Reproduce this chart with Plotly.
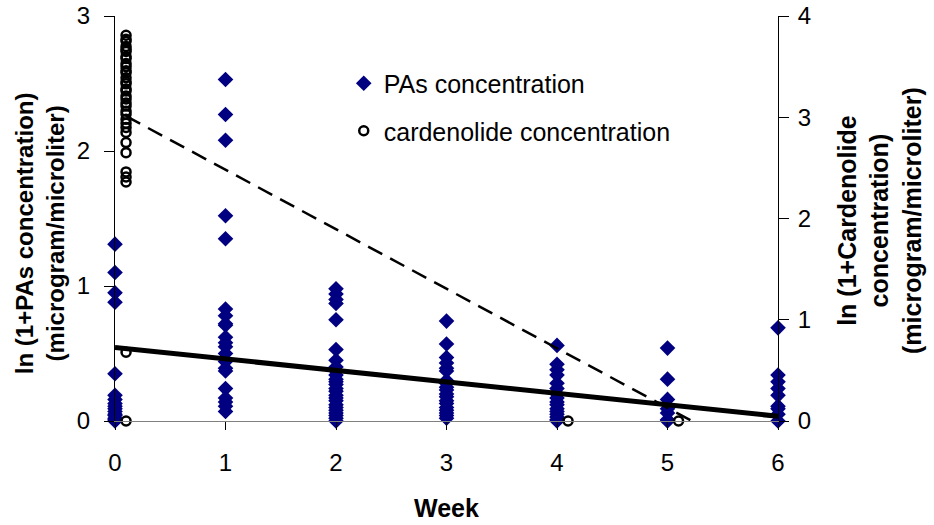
import plotly.graph_objects as go

# PAs concentration, ln(1+x), per sampling week
pas_w0 = [1.31, 1.10, 0.95, 0.88, 0.35, 0.19, 0.16, 0.13, 0.11, 0.09, 0.07, 0.05, 0.04, 0.02, 0.01, 0.0]
pas_w1 = [2.53, 2.27, 2.08, 1.52, 1.35, 0.83, 0.78, 0.72, 0.71, 0.62, 0.58, 0.55, 0.50, 0.44,
          0.39, 0.37, 0.24, 0.17, 0.14, 0.11, 0.07]
pas_w2 = [0.98, 0.94, 0.90, 0.87, 0.75, 0.53, 0.45, 0.40, 0.37, 0.34, 0.31, 0.29, 0.27, 0.24,
          0.22, 0.19, 0.17, 0.15, 0.12, 0.10, 0.08, 0.06, 0.04, 0.02, 0.0]
pas_w3 = [0.74, 0.57, 0.47, 0.43, 0.39, 0.37, 0.30, 0.28, 0.25, 0.23, 0.20, 0.18, 0.15, 0.13,
          0.10, 0.08, 0.06, 0.04, 0.02]
pas_w4 = [0.56, 0.42, 0.38, 0.34, 0.28, 0.24, 0.20, 0.17, 0.14, 0.12, 0.09, 0.07, 0.05, 0.03, 0.01, 0.0]
pas_w5 = [0.54, 0.31, 0.16, 0.09, 0.06, 0.01, 0.0]
pas_w6 = [0.69, 0.34, 0.29, 0.24, 0.19, 0.11, 0.09, 0.05, 0.0]

# Cardenolide concentration, ln(1+x)
card_w0 = [3.81, 3.77, 3.75, 3.70, 3.67, 3.65, 3.60, 3.58, 3.53, 3.50, 3.46, 3.44, 3.39, 3.35,
           3.33, 3.28, 3.26, 3.21, 3.18, 3.14, 3.11, 3.06, 3.03, 2.98, 2.94, 2.90, 2.85,
           2.75, 2.65, 2.46, 2.41, 2.36, 0.68, 0.0]
card_w4 = [0.0]
card_w5 = [0.0]

# Linear trends (intercept, slope)
pas_fit = (0.545, -0.085)
card_fit = (3.07, -0.588)

weeks = [0, 1, 2, 3, 4, 5, 6]
pas_groups = [pas_w0, pas_w1, pas_w2, pas_w3, pas_w4, pas_w5, pas_w6]
card_groups = {0: card_w0, 4: card_w4, 5: card_w5}

CARD_SHIFT = 0.1  # cardenolide samples drawn a little to the right of each week

pas_x, pas_y = [], []
for wk, vals in zip(weeks, pas_groups):
    pas_x += [wk] * len(vals)
    pas_y += vals

card_x, card_y = [], []
for wk, vals in card_groups.items():
    card_x += [wk + CARD_SHIFT] * len(vals)
    card_y += vals

FONT = "Arial, Liberation Sans, sans-serif"

fig = go.Figure()

fig.add_trace(go.Scatter(
    x=pas_x, y=pas_y, mode="markers", name="PAs concentration",
    legendgroup="pas",
    marker=dict(symbol="diamond", size=12, color="#000080", line=dict(width=0)),
    cliponaxis=False,
))

pas_line_x = [0, 6]
fig.add_trace(go.Scatter(
    x=pas_line_x, y=[pas_fit[0] + pas_fit[1] * v for v in pas_line_x],
    mode="lines", line=dict(color="black", width=5), showlegend=False,
    cliponaxis=False,
))

fig.add_trace(go.Scatter(
    x=card_x, y=card_y, mode="markers", name="cardenolide concentration",
    legendgroup="card", yaxis="y2",
    marker=dict(symbol="circle-open", size=9, color="black", line=dict(width=2.5, color="black")),
    cliponaxis=False,
))

card_line_x = [0.1, 5.3]
fig.add_trace(go.Scatter(
    x=card_line_x, y=[card_fit[0] + card_fit[1] * v for v in card_line_x],
    mode="lines", yaxis="y2", line=dict(color="black", width=2.5, dash="16px,9px"),
    showlegend=False, cliponaxis=False,
))

fig.update_layout(
    width=934, height=525,
    margin=dict(l=115, r=156, t=16, b=104),
    paper_bgcolor="white", plot_bgcolor="white",
    font=dict(family=FONT, size=24, color="black"),
    showlegend=True,
    legend=dict(
        x=0.345, y=0.89, xanchor="left", yanchor="top",
        bgcolor="rgba(0,0,0,0)", font=dict(size=25, family=FONT),
        tracegroupgap=12, itemsizing="trace",
    ),
    xaxis=dict(
        range=[0, 6], tickvals=weeks, ticktext=[str(w) for w in weeks],
        showline=True, linecolor="#808080", linewidth=1,
        ticks="outside", ticklen=8, tickcolor="black",
        showgrid=False, zeroline=False, automargin=False,
        tickfont=dict(size=24), ticklabelstandoff=12,
    ),
    yaxis=dict(
        range=[0, 3], tickvals=[0, 1, 2, 3],
        showline=True, linecolor="black", linewidth=1,
        ticks="outside", ticklen=10, tickcolor="black",
        showgrid=False, zeroline=False, automargin=False,
        tickfont=dict(size=24), ticklabelstandoff=9,
    ),
    yaxis2=dict(
        range=[0, 4], tickvals=[0, 1, 2, 3, 4], overlaying="y", side="right",
        showline=True, linecolor="black", linewidth=1,
        ticks="outside", ticklen=10, tickcolor="black",
        showgrid=False, zeroline=False, automargin=False,
        tickfont=dict(size=24), ticklabelstandoff=4,
    ),
)

# Axis titles
fig.add_annotation(
    text="<b>ln (1+PAs concentration)<br>(microgram/microliter)</b>",
    xref="paper", yref="paper", x=-0.113, y=0.464, textangle=-90,
    xanchor="center", yanchor="middle",
    showarrow=False, font=dict(size=24, family=FONT), align="center",
)
fig.add_annotation(
    text="<b>ln (1+Cardenolide<br>concentration)<br>(microgram/microliter)</b>",
    xref="paper", yref="paper", x=1.153, y=0.495, textangle=-90,
    xanchor="center", yanchor="middle",
    showarrow=False, font=dict(size=25, family=FONT), align="center",
)
fig.add_annotation(
    text="<b>Week</b>",
    xref="paper", yref="paper", x=0.5, y=-0.215,
    xanchor="center", yanchor="middle",
    showarrow=False, font=dict(size=25, family=FONT),
)

fig.write_html("out.html")
